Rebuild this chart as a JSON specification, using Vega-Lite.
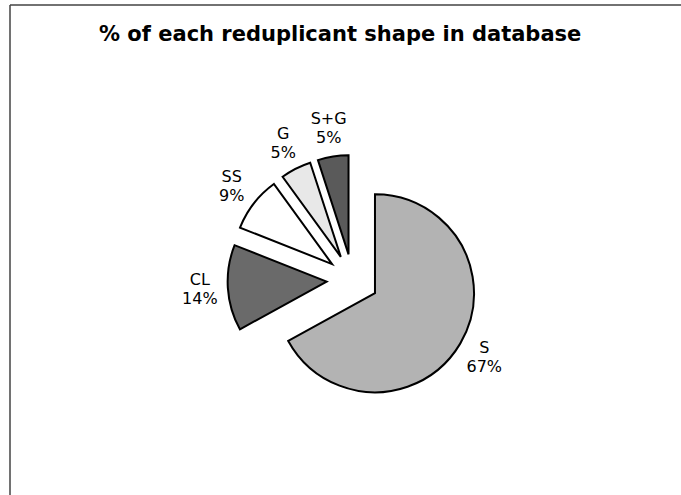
{
  "$schema": "https://vega.github.io/schema/vega-lite/v6.json",
  "width": 671,
  "height": 490,
  "autosize": "none",
  "padding": {"left": 10, "top": 5, "right": 0, "bottom": 0},
  "background": "white",
  "view": {"stroke": "#444444", "strokeWidth": 1.5, "fill": "white", "strokeDash": [671, 1161, 490, 0]},
  "title": {
    "text": "% of each reduplicant shape in database",
    "font": "DejaVu Sans",
    "fontSize": 21,
    "fontWeight": "bold",
    "color": "black",
    "anchor": "start",
    "baseline": "alphabetic",
    "offset": 0,
    "dx": 89,
    "dy": 57
  },
  "data": {
    "values": [
      {"shape": "S", "share": 0.67, "rank": 1},
      {"shape": "CL", "share": 0.14, "rank": 2},
      {"shape": "SS", "share": 0.09, "rank": 3},
      {"shape": "G", "share": 0.05, "rank": 4},
      {"shape": "S+G", "share": 0.05, "rank": 5}
    ]
  },
  "encoding": {
    "theta": {"field": "share", "type": "quantitative", "stack": true},
    "order": {"field": "rank", "type": "quantitative"},
    "color": {
      "field": "shape",
      "type": "nominal",
      "scale": {
        "domain": ["S", "CL", "SS", "G", "S+G"],
        "range": ["#b3b3b3", "#6a6a6a", "#ffffff", "#e8e8e8", "#5a5a5a"]
      },
      "legend": null
    }
  },
  "layer": [
    {
      "mark": {
        "type": "arc",
        "radius": 99,
        "stroke": "black",
        "strokeWidth": 2,
        "x": {"expr": "342.6 + 26*sin(PI*(datum.share_start+datum.share_end))"},
        "y": {"expr": "275 - 26*cos(PI*(datum.share_start+datum.share_end))"}
      }
    },
    {
      "mark": {
        "type": "text",
        "radius": 127,
        "font": "DejaVu Sans",
        "fontSize": 16,
        "baseline": "middle",
        "align": "center",
        "dy": -9.5,
        "x": {"expr": "342.6 + 26*sin(PI*(datum.share_start+datum.share_end))"},
        "y": {"expr": "275 - 26*cos(PI*(datum.share_start+datum.share_end))"}
      },
      "encoding": {
        "text": {"field": "shape", "type": "nominal"},
        "color": {"value": "black"}
      }
    },
    {
      "mark": {
        "type": "text",
        "radius": 127,
        "font": "DejaVu Sans",
        "fontSize": 16,
        "baseline": "middle",
        "align": "center",
        "dy": 9.5,
        "x": {"expr": "342.6 + 26*sin(PI*(datum.share_start+datum.share_end))"},
        "y": {"expr": "275 - 26*cos(PI*(datum.share_start+datum.share_end))"}
      },
      "encoding": {
        "text": {"field": "share", "type": "quantitative", "format": ".0%"},
        "color": {"value": "black"}
      }
    }
  ]
}
